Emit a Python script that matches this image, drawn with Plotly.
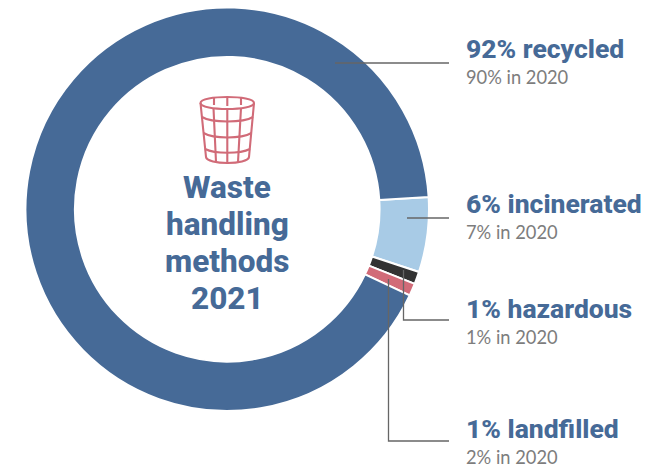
import plotly.graph_objects as go

W, H = 666, 467

methods = ["incinerated", "hazardous", "landfilled", "recycled"]
share_2021 = [6, 1, 1, 92]
share_2020 = [7, 1, 2, 90]
slice_colors = ["#a8cbe6", "#333333", "#d16b78", "#466a97"]

title_lines = ["Waste", "handling", "methods", "2021"]

BLUE = "#466a97"
GREY = "#7d7d7d"
RULE = "#666666"
PINK = "#d16b78"
HEAD_FONT = "Roboto"
SUB_FONT = "Lato"


def fx(x):
    return x / W


def fy(y):
    return 1 - y / H


fig = go.Figure(
    go.Pie(
        labels=methods,
        values=share_2021,
        hole=0.755,
        sort=False,
        direction="clockwise",
        rotation=86.5,
        textinfo="none",
        hoverinfo="label+percent",
        marker=dict(colors=slice_colors, line=dict(color="white", width=2)),
        domain=dict(x=[fx(25.5), fx(429)], y=[fy(411), fy(7.5)]),
    )
)

shapes = []


def rule(path):
    shapes.append(dict(type="path", xref="x", yref="y", path=path,
                       line=dict(color=RULE, width=1.3), fillcolor="rgba(0,0,0,0)"))


# Leader lines from each slice to its label
rule("M335,63 L449,63")
rule("M407,218 L449,218")
rule("M403.5,270 L403.5,320 L449,320")
rule("M388.5,279 L388.5,441 L449,441")


def icon(path):
    shapes.append(dict(type="path", xref="x", yref="y", path=path,
                       line=dict(color=PINK, width=2.1), fillcolor="rgba(0,0,0,0)"))


# Waste basket: rim, body, mesh
icon("M200.5,103 C200.5,95 254,95 254,103 C254,111 200.5,111 200.5,103 Z")
icon("M200.5,103 L206,157 C207,165 248,165 249,157 L254,103")
icon("M214,98 L214,105 M227.3,97 L227.3,106 M241,98 L241,105")
icon("M213.5,108 L216,162 M227.3,109 L227.3,163 M241,108 L238,162")
icon("M202,117 C212,123 243,123 253,117")
icon("M203.5,133 C214,139 241,139 251.5,133")
icon("M205,149 C215,154 240,154 250,149")

annotations = []


def text(x, y, s, size, color, family, weight=400, anchor="left"):
    annotations.append(dict(x=x, y=y, xref="x", yref="y", text=s, showarrow=False,
                            xanchor=anchor, yanchor="middle",
                            font=dict(size=size, color=color, family=family, weight=weight)))


for line, y in zip(title_lines, [187, 224, 261, 298]):
    text(227, y, line, 31.5, BLUE, HEAD_FONT, 800, "center")

label_rows = {"recycled": 48, "incinerated": 203, "hazardous": 308, "landfilled": 428}
for name, now, prev in zip(methods, share_2021, share_2020):
    y = label_rows[name]
    text(464, y, f"{now}% {name}", 26.5, BLUE, HEAD_FONT, 800)
    text(464, y + 29, f"{prev}% in 2020", 18.3, GREY, SUB_FONT)

fig.update_layout(
    width=W,
    height=H,
    margin=dict(l=0, r=0, t=0, b=0),
    paper_bgcolor="white",
    plot_bgcolor="rgba(0,0,0,0)",
    showlegend=False,
    xaxis=dict(range=[0, W], visible=False, fixedrange=True),
    yaxis=dict(range=[H, 0], visible=False, fixedrange=True),
    shapes=shapes,
    annotations=annotations,
)

fig.write_html("out.html", config=dict(displayModeBar=False))
